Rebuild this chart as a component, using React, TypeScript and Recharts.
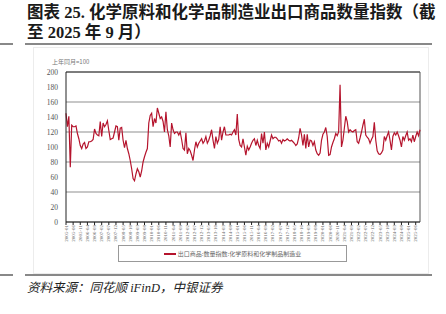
import React from 'react';
import { LineChart, Line, XAxis, YAxis, CartesianGrid, ReferenceLine } from 'recharts';

// monthly values, 上年同月=100, 2005-01 .. 2025-09
const v2005 = [145, 127, 141, 73, 129, 127, 127, 128, 118, 111, 102, 98];
const v2006 = [104, 106, 98, 100, 107, 107, 108, 110, 124, 118, 116, 115];
const v2007 = [134, 114, 132, 127, 130, 135, 122, 110, 111, 112, 120, 128];
const v2008 = [127, 109, 125, 126, 109, 99, 109, 98, 91, 82, 71, 58];
const v2009 = [55, 64, 71, 67, 60, 68, 80, 87, 93, 98, 132, 142];
const v2010 = [145, 127, 138, 132, 152, 145, 138, 140, 134, 120, 147, 123];
const v2011 = [115, 100, 132, 123, 118, 120, 120, 116, 120, 110, 98, 96];
const v2012 = [119, 91, 98, 95, 89, 82, 96, 107, 100, 105, 108, 111];
const v2013 = [105, 108, 114, 105, 109, 115, 123, 109, 98, 114, 105, 110];
const v2014 = [127, 109, 120, 127, 116, 116, 116, 117, 116, 120, 123, 116];
const v2015 = [144, 110, 102, 100, 111, 100, 89, 101, 96, 100, 105, 109];
const v2016 = [111, 102, 109, 102, 98, 118, 105, 120, 96, 105, 100, 108];
const v2017 = [116, 111, 113, 113, 111, 108, 109, 105, 110, 108, 109, 111];
const v2018 = [109, 108, 109, 107, 105, 102, 104, 112, 125, 116, 102, 117];
const v2019 = [98, 117, 100, 109, 108, 102, 107, 96, 91, 89, 92, 109];
const v2020 = [117, 120, 126, 114, 89, 90, 100, 106, 111, 118, 115, 120];
const v2021 = [183, 100, 109, 125, 141, 134, 120, 123, 121, 120, 122, 123];
const v2022 = [107, 105, 112, 120, 129, 137, 116, 113, 111, 105, 110, 114];
const v2023 = [133, 109, 95, 91, 90, 92, 96, 114, 109, 115, 120, 109];
const v2024 = [96, 114, 119, 116, 120, 115, 109, 100, 114, 109, 115, 120];
const v2025 = [109, 111, 107, 116, 107, 114, 120, 115, 123];

const series = [
  v2005, v2006, v2007, v2008, v2009, v2010, v2011, v2012, v2013, v2014, v2015,
  v2016, v2017, v2018, v2019, v2020, v2021, v2022, v2023, v2024, v2025,
];
const startYear = 2005;
const yTicks = [0, 20, 40, 60, 80, 100, 120, 140, 160, 180, 200];

const seriesName = '出口商品:数量指数:化学原料和化学制品制造业';

const data = series.flatMap((vals, yi) =>
  vals.map((v, mi) => ({
    month: `${startYear + yi}-${String(mi + 1).padStart(2, '0')}`,
    value: v,
  }))
);

const VerticalTick = (props: any) => {
  const { x, y, payload } = props;
  return (
    <text
      transform={`translate(${x},${y}) rotate(-90)`}
      textAnchor="end"
      dominantBaseline="central"
      fontSize={5}
      fontFamily="'Liberation Serif', serif"
      fill="#666"
    >
      {payload.value}
    </text>
  );
};

const serifCjk = "'Liberation Serif', 'Noto Sans CJK SC', serif";

export default function App() {
  return (
    <div style={{ position: 'absolute', left: 0, top: 0, width: 446, height: 314, background: '#fff', overflow: 'hidden' }}>
      <div style={{ position: 'absolute', left: 27, top: 3, fontFamily: serifCjk, fontWeight: 700, fontSize: 16.5, lineHeight: '20px', color: '#1a1a1a', whiteSpace: 'nowrap' }}>
        <div>图表 25. 化学原料和化学品制造业出口商品数量指数（截</div>
        <div>至 2025 年 9 月）</div>
      </div>
      <div style={{ position: 'absolute', left: 0, top: 43, width: 13, height: 2, background: '#888' }} />
      <div style={{ position: 'absolute', left: 25, top: 43, width: 407, height: 2, background: '#888' }} />
      <div style={{ position: 'absolute', left: 33, top: 47, width: 394, height: 225, border: '1px solid #ececec' }} />
      <div style={{ position: 'absolute', left: 52, top: 57, fontSize: 6, color: '#777', fontFamily: "'Noto Sans CJK SC', sans-serif", whiteSpace: 'nowrap' }}>
        上年同月=100
      </div>

      <div style={{ position: 'absolute', left: 0, top: 0 }}>
        <LineChart width={446} height={314} data={data} margin={{ top: 72, right: 26, bottom: 72, left: 0 }}>
          <CartesianGrid vertical={false} stroke="#8f8f8f" strokeWidth={1} />
          <XAxis
            dataKey="month"
            interval={4}
            height={20}
            tickSize={3}
            tickMargin={0}
            tick={<VerticalTick />}
            stroke="#222"
            tickLine={{ stroke: '#222' }}
          />
          <YAxis
            width={66}
            domain={[0, 200]}
            ticks={yTicks}
            tickLine={false}
            stroke="#222"
            tick={{ fontSize: 7.5, fill: '#555', fontFamily: "'Liberation Serif', serif" }}
          />
          <ReferenceLine y={200} stroke="#333" strokeWidth={1} />
          <ReferenceLine x={data[data.length - 1].month} stroke="#555" strokeWidth={1} />
          <Line
            type="linear"
            dataKey="value"
            name={seriesName}
            stroke="#b5142d"
            strokeWidth={1.2}
            dot={false}
            isAnimationActive={false}
          />
        </LineChart>
      </div>

      <div style={{ position: 'absolute', left: 118, top: 245, width: 229, height: 17, border: '1px solid #999', display: 'flex', alignItems: 'center', justifyContent: 'center', boxSizing: 'border-box' }}>
        <span style={{ display: 'inline-block', width: 12, height: 2, background: '#b5142d', marginRight: 2 }} />
        <span style={{ fontSize: 6, color: '#666', fontFamily: "'Noto Sans CJK SC', sans-serif", whiteSpace: 'nowrap' }}>{seriesName}</span>
      </div>

      <div style={{ position: 'absolute', left: 0, top: 274, width: 13, height: 2, background: '#888' }} />
      <div style={{ position: 'absolute', left: 25, top: 274, width: 407, height: 2, background: '#888' }} />
      <div style={{ position: 'absolute', left: 27, top: 277, fontFamily: serifCjk, fontStyle: 'italic', fontSize: 12.5, color: '#222', whiteSpace: 'nowrap' }}>
        资料来源：同花顺 iFinD，中银证券
      </div>
    </div>
  );
}
